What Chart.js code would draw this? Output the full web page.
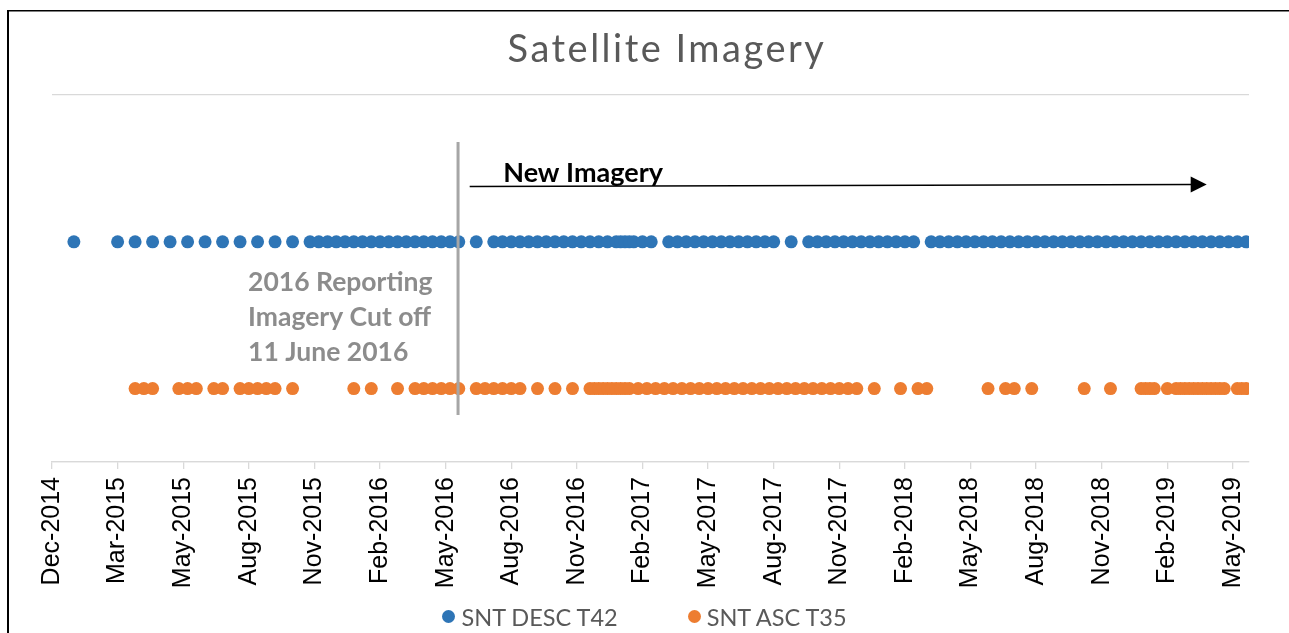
<!DOCTYPE html>
<html>
<head>
<meta charset="utf-8">
<title>Satellite Imagery</title>
<script src="https://cdn.jsdelivr.net/npm/chart.js@4.4.1/dist/chart.umd.min.js"></script>
<style>
  html, body { margin: 0; padding: 0; background: #fff; }
  #wrap { position: relative; width: 1289px; height: 633px; }
  #legend {
    position: absolute; left: 0; top: 601px; width: 1289px;
    text-align: center; white-space: nowrap;
    font: 23.5px Lato, sans-serif; color: #595959; line-height: 26px;
  }
  #legend .item { display: inline-flex; align-items: center; }
  #legend .item + .item { margin-left: 70px; }
  #legend i { display: inline-block; width: 13px; height: 13px; border-radius: 50%; margin-right: 6px; }
</style>
</head>
<body>
<div id="wrap"><canvas id="imagery"></canvas><div id="legend"></div></div>
<script>
// Sentinel-1 acquisition dates, descending track 42
var descDates = [
  "2015-01-01","2015-03-02","2015-03-26","2015-04-19","2015-05-13","2015-06-06","2015-06-30","2015-07-24",
  "2015-08-17","2015-09-10","2015-10-04","2015-10-28",
  "2015-11-21","2015-12-03","2015-12-15","2015-12-27","2016-01-08","2016-01-20","2016-02-01","2016-02-13",
  "2016-02-25","2016-03-08","2016-03-20","2016-04-01","2016-04-13","2016-04-25","2016-05-07","2016-05-19",
  "2016-05-31","2016-06-12",
  "2016-07-06","2016-07-30","2016-08-11","2016-08-23","2016-09-04","2016-09-16","2016-09-28","2016-10-10",
  "2016-10-22","2016-11-03","2016-11-15","2016-11-27","2016-12-09","2016-12-21","2017-01-02","2017-01-14",
  "2017-01-20","2017-01-26","2017-02-01","2017-02-07","2017-02-19","2017-03-03",
  "2017-03-27","2017-04-08","2017-04-20","2017-05-02","2017-05-14","2017-05-26","2017-06-07","2017-06-19",
  "2017-07-01","2017-07-13","2017-07-25","2017-08-06","2017-08-18",
  "2017-09-11",
  "2017-10-05","2017-10-17","2017-10-29","2017-11-10","2017-11-22","2017-12-04","2017-12-16","2017-12-28",
  "2018-01-09","2018-01-21","2018-02-02","2018-02-14","2018-02-26",
  "2018-03-22","2018-04-03","2018-04-15","2018-04-27","2018-05-09","2018-05-21","2018-06-02","2018-06-14",
  "2018-06-26","2018-07-08","2018-07-20","2018-08-01","2018-08-13","2018-08-25","2018-09-06","2018-09-18",
  "2018-09-30","2018-10-12","2018-10-24","2018-11-05","2018-11-17","2018-11-29","2018-12-11","2018-12-23",
  "2019-01-04","2019-01-16","2019-01-28","2019-02-09","2019-02-21","2019-03-05","2019-03-17","2019-03-29",
  "2019-04-10","2019-04-22","2019-05-04","2019-05-16","2019-05-28"
];

// ascending track 35
var ascDates = [
  "2015-03-26","2015-04-07","2015-04-19","2015-05-25","2015-06-06","2015-06-18","2015-07-12","2015-07-24",
  "2015-08-17","2015-08-29","2015-09-10","2015-09-22","2015-10-04","2015-10-28",
  "2016-01-20","2016-02-13","2016-03-20","2016-04-13","2016-04-25","2016-05-07","2016-05-19","2016-05-31",
  "2016-06-12",
  "2016-07-06","2016-07-18","2016-07-30","2016-08-11","2016-08-23","2016-09-04",
  "2016-09-28","2016-10-22","2016-11-15",
  "2016-12-09","2016-12-15","2016-12-21","2016-12-27","2017-01-02","2017-01-08","2017-01-14","2017-01-20",
  "2017-01-26","2017-02-01",
  "2017-02-13","2017-02-25","2017-03-09","2017-03-21","2017-04-02","2017-04-14","2017-04-26","2017-05-08",
  "2017-05-20","2017-06-01","2017-06-13","2017-06-25","2017-07-07","2017-07-19","2017-07-31","2017-08-12",
  "2017-08-24","2017-09-05","2017-09-17","2017-09-29","2017-10-11","2017-10-23","2017-11-04","2017-11-16",
  "2017-11-28","2017-12-10",
  "2018-01-03","2018-02-08","2018-03-04","2018-03-16","2018-06-08","2018-07-02","2018-07-14","2018-08-07",
  "2018-10-18","2018-11-23",
  "2019-01-04","2019-01-10","2019-01-16","2019-01-22","2019-02-09","2019-02-21","2019-02-27","2019-03-05",
  "2019-03-11","2019-03-17","2019-03-23","2019-03-29","2019-04-04","2019-04-10","2019-04-16","2019-04-22",
  "2019-04-28","2019-05-16","2019-05-22","2019-05-28"
];

var seriesNames = ["SNT DESC T42", "SNT ASC T35"];
var seriesRows = [1.5, 0.5];
var seriesColors = ["#2E75B6", "#ED7D31"];

var monthNames = ["Jan","Feb","Mar","Apr","May","Jun","Jul","Aug","Sep","Oct","Nov","Dec"];
var axisStart = "2014-12-02";
var axisEnd = "2019-06-01";
var tickStep = 90;   // days between axis labels

var cutoffDate = "2016-06-11";
var cutoffText = ["2016 Reporting", "Imagery Cut off", "11 June 2016"];
var arrowFrom = "2016-06-27";
var arrowTo = "2019-04-04";

var DAY = 86400000;
var t0 = Date.parse(axisStart);

function dayOf(s) {
  return (Date.parse(s) - t0) / DAY;
}

function points(dates, row) {
  return dates.map(function (d) { return { x: dayOf(d), y: row }; });
}

// frame, title and the cut-off / "new imagery" notes
var extras = {
  id: "extras",
  beforeDraw: function (chart) {
    var ctx = chart.ctx;
    ctx.save();
    ctx.fillStyle = "#000";
    ctx.fillRect(7, 10, 2, chart.height - 10);
    ctx.fillRect(7, 10, chart.width - 7, 1.5);

    ctx.fillStyle = "#595959";
    ctx.font = "38px Lato";
    ctx.letterSpacing = "2.5px";
    ctx.textAlign = "center";
    ctx.textBaseline = "middle";
    ctx.fillText("Satellite Imagery", 667, 50);
    ctx.restore();
  },
  afterDatasetsDraw: function (chart) {
    var ctx = chart.ctx;
    var xs = chart.scales.x, ys = chart.scales.y;
    ctx.save();

    // cut-off line
    var cx = xs.getPixelForValue(dayOf(cutoffDate));
    ctx.strokeStyle = "#a6a6a6";
    ctx.lineWidth = 3;
    ctx.beginPath();
    ctx.moveTo(cx, ys.getPixelForValue(2.18));
    ctx.lineTo(cx, ys.getPixelForValue(0.32));
    ctx.stroke();

    ctx.fillStyle = "#8c8c8c";
    ctx.font = "bold 26.5px Lato";
    ctx.textAlign = "left";
    ctx.textBaseline = "middle";
    var tx = xs.getPixelForValue(dayOf("2015-08-28"));
    [1.226, 0.988, 0.749].forEach(function (v, i) {
      ctx.fillText(cutoffText[i], tx, ys.getPixelForValue(v));
    });

    // arrow
    var ax0 = xs.getPixelForValue(dayOf(arrowFrom));
    var ax1 = xs.getPixelForValue(dayOf(arrowTo));
    var ay0 = ys.getPixelForValue(1.877);
    var ay1 = ys.getPixelForValue(1.89);
    ctx.strokeStyle = "#000";
    ctx.lineWidth = 1.4;
    ctx.beginPath();
    ctx.moveTo(ax0, ay0);
    ctx.lineTo(ax1 - 14, ay1);
    ctx.stroke();
    ctx.fillStyle = "#000";
    ctx.beginPath();
    ctx.moveTo(ax1, ay1);
    ctx.lineTo(ax1 - 16, ay1 - 8);
    ctx.lineTo(ax1 - 16, ay1 + 8);
    ctx.closePath();
    ctx.fill();

    ctx.font = "bold 27px Lato";
    ctx.textBaseline = "alphabetic";
    ctx.fillText("New Imagery", xs.getPixelForValue(dayOf("2016-08-12")), ys.getPixelForValue(1.907));
    ctx.restore();
  }
};

// legend built as html under the axis
var htmlLegend = {
  id: "htmlLegend",
  afterUpdate: function (chart) {
    var box = document.getElementById("legend");
    box.innerHTML = "";
    chart.data.datasets.forEach(function (ds) {
      var item = document.createElement("span");
      item.className = "item";
      var dot = document.createElement("i");
      dot.style.background = ds.backgroundColor;
      item.appendChild(dot);
      item.appendChild(document.createTextNode(ds.label));
      box.appendChild(item);
    });
  }
};

new Chart(document.getElementById("imagery"), {
  type: "scatter",
  data: {
    datasets: [{
      label: seriesNames[0],
      data: points(descDates, seriesRows[0]),
      backgroundColor: seriesColors[0],
      borderWidth: 0,
      pointRadius: 6.5,
      pointHoverRadius: 6.5
    }, {
      label: seriesNames[1],
      data: points(ascDates, seriesRows[1]),
      backgroundColor: seriesColors[1],
      borderWidth: 0,
      pointRadius: 6.5,
      pointHoverRadius: 6.5
    }]
  },
  options: {
    responsive: true,
    maintainAspectRatio: false,
    animation: false,
    layout: { padding: { top: 95, right: 40, left: 0, bottom: 46 } },
    plugins: {
      title: { display: false },
      tooltip: { enabled: false },
      legend: { display: false }
    },
    scales: {
      x: {
        type: "linear",
        min: 0,
        max: dayOf(axisEnd),
        afterFit: function (axis) { axis.height = 125; },
        border: { color: "#d9d9d9", width: 1.3 },
        grid: { drawOnChartArea: false, tickLength: 7, color: "#d9d9d9", lineWidth: 1.3 },
        ticks: {
          stepSize: tickStep,
          includeBounds: false,
          autoSkip: false,
          maxRotation: 90,
          minRotation: 90,
          padding: 8,
          color: "#000",
          font: { family: "Liberation Sans", size: 25 },
          callback: function (v) {
            var d = new Date(t0 + v * DAY);
            return monthNames[d.getUTCMonth()] + "-" + d.getUTCFullYear();
          }
        }
      },
      y: {
        min: 0,
        max: 2.5,
        afterFit: function (axis) { axis.width = 52; },
        border: { display: false },
        grid: { color: "#d9d9d9", lineWidth: 1.3, drawTicks: false },
        ticks: { display: false, stepSize: 2.5 }
      }
    }
  },
  plugins: [extras, htmlLegend]
});
</script>
</body>
</html>
